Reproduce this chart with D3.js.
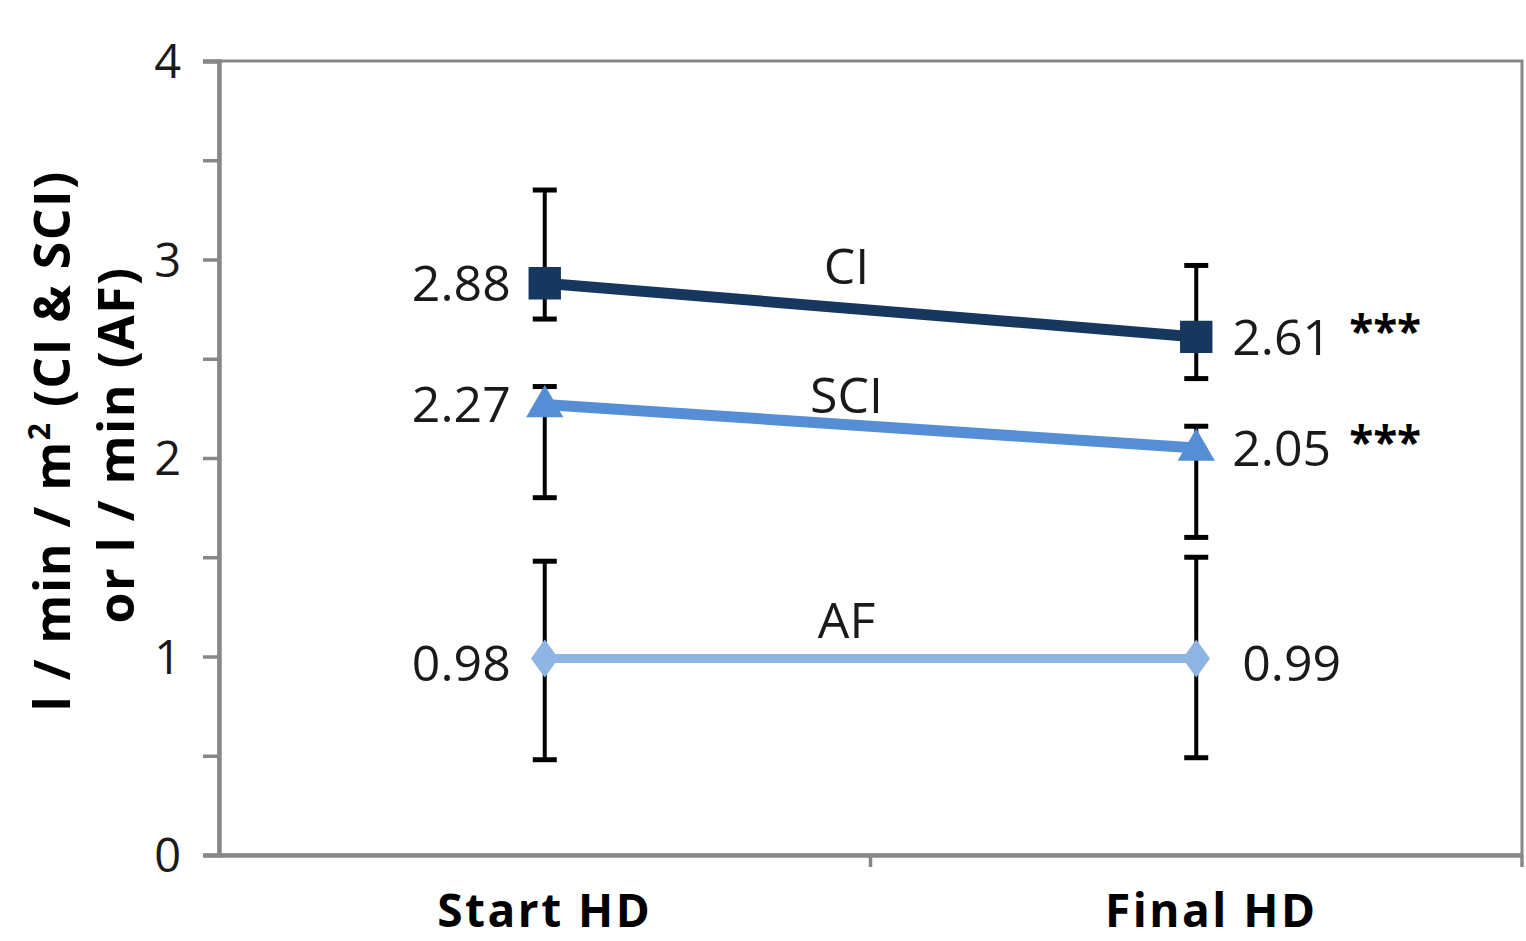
<!DOCTYPE html>
<html>
<head>
<meta charset="utf-8">
<script src="https://cdn.jsdelivr.net/npm/d3@7"></script>
<style>
  html, body { margin: 0; padding: 0; background: #fff; }
  svg { display: block; }
</style>
</head>
<body>
<svg id="chart" width="1526" height="941"></svg>
<script>
// ---- data ----
const categories = ["Start HD", "Final HD"];
const seriesNames = ["CI", "SCI", "AF"];
const ciValues = [2.88, 2.61];
const sciValues = [2.27, 2.05];
const afValues = [0.99, 0.99];
const ciLabels = ["2.88", "2.61"];
const sciLabels = ["2.27", "2.05"];
const afLabels = ["0.98", "0.99"];
const significance = ["", "***"];
const ciErrLow = [2.70, 2.40];
const ciErrHigh = [3.35, 2.97];
const sciErrLow = [1.80, 1.60];
const sciErrHigh = [2.36, 2.16];
const afErrLow = [0.48, 0.49];
const afErrHigh = [1.48, 1.50];
const yTicks = [0, 0.5, 1, 1.5, 2, 2.5, 3, 3.5, 4];
const yTitleLine1 = "l / min / m";
const yTitleLine2 = "or l / min (AF)";

const series = [
  { name: seriesNames[0], values: ciValues, labels: ciLabels, lo: ciErrLow, hi: ciErrHigh, color: "#17375E", marker: "square", sig: true, width: 11 },
  { name: seriesNames[1], values: sciValues, labels: sciLabels, lo: sciErrLow, hi: sciErrHigh, color: "#558ED5", marker: "triangle", sig: true, width: 11 },
  { name: seriesNames[2], values: afValues, labels: afLabels, lo: afErrLow, hi: afErrHigh, color: "#8EB4E3", marker: "diamond", sig: false, width: 9 }
];

// ---- layout ----
const svg = d3.select("#chart");
const plot = { left: 219, right: 1522, top: 61, bottom: 855 };
const x = d3.scaleBand().domain(categories).range([plot.left, plot.right]).padding(0);
const xc = c => x(c) + x.bandwidth() / 2;
const y = d3.scaleLinear().domain([0, 4]).range([plot.bottom, plot.top]);

const font = "'Open Sans', 'Noto Sans', sans-serif";
const axisGray = "#878787";
const textColor = "#1a1a1a";

// frame (top & right)
svg.append("rect")
  .attr("x", plot.left).attr("y", plot.top)
  .attr("width", plot.right - plot.left).attr("height", plot.bottom - plot.top)
  .attr("fill", "none").attr("stroke", axisGray).attr("stroke-width", 3);

// y axis
const yAxis = svg.append("g")
  .attr("transform", `translate(${plot.left},0)`)
  .call(d3.axisLeft(y).tickValues(yTicks).tickSize(16).tickPadding(22)
    .tickFormat(d => Number.isInteger(d) ? d3.format("d")(d) : ""));
yAxis.select(".domain").attr("stroke", axisGray).attr("stroke-width", 4.5);
yAxis.selectAll(".tick line").attr("stroke", axisGray).attr("stroke-width", 3.5);
yAxis.selectAll(".tick text").attr("fill", textColor).attr("font-family", font)
  .attr("font-size", 47).attr("dy", "0.36em");

// x axis
const xAxis = svg.append("g")
  .attr("transform", `translate(0,${plot.bottom})`)
  .call(d3.axisBottom(x).tickSize(0).tickPadding(0));
xAxis.select(".domain").attr("stroke", axisGray).attr("stroke-width", 4.5);
xAxis.selectAll(".tick text").attr("fill", "#000").attr("font-family", font)
  .attr("font-size", 46).attr("font-weight", "bold").attr("letter-spacing", 2.5)
  .attr("y", 72).attr("dy", 0)
  .attr("dx", (d, i) => i === 0 ? 0 : 15);
// boundary ticks
const boundaries = categories.map(c => x(c) + x.bandwidth());
svg.append("g").selectAll("line").data(boundaries).join("line")
  .attr("x1", d => d).attr("x2", d => d)
  .attr("y1", plot.bottom).attr("y2", plot.bottom + 12)
  .attr("stroke", axisGray).attr("stroke-width", 3.5);

// y title
const yTitle = svg.append("g").attr("transform", "translate(0,441) rotate(-90)");
const t1 = yTitle.append("text").attr("x", 0).attr("y", 70)
  .attr("text-anchor", "middle").attr("font-family", font).attr("font-weight", "bold")
  .attr("font-size", 50).attr("letter-spacing", 1.5).attr("fill", "#000");
t1.append("tspan").text(yTitleLine1);
t1.append("tspan").attr("font-size", 30).attr("dy", -20).text("2");
t1.append("tspan").attr("dy", 20).text(" (CI & SCI)");
yTitle.append("text").attr("x", -4).attr("y", 134)
  .attr("text-anchor", "middle").attr("font-family", font).attr("font-weight", "bold")
  .attr("font-size", 50).attr("letter-spacing", 1.5).attr("fill", "#000").text(yTitleLine2);

// lines
const line = d3.line().x((d, i) => xc(categories[i])).y(d => y(d));
series.forEach(s => {
  svg.append("path").datum(s.values)
    .attr("d", line).attr("fill", "none")
    .attr("stroke", s.color).attr("stroke-width", s.width);
});

// error bars
const capW = 24;
series.forEach(s => {
  const g = svg.append("g");
  categories.forEach((c, i) => {
    const cx = xc(c);
    g.append("line").attr("x1", cx).attr("x2", cx)
      .attr("y1", y(s.hi[i])).attr("y2", y(s.lo[i]))
      .attr("stroke", "#000").attr("stroke-width", 4);
    [s.hi[i], s.lo[i]].forEach(v => {
      g.append("line").attr("x1", cx - capW / 2).attr("x2", cx + capW / 2)
        .attr("y1", y(v)).attr("y2", y(v))
        .attr("stroke", "#000").attr("stroke-width", 5);
    });
  });
});

// markers
const symbolTypes = { square: d3.symbolSquare, triangle: d3.symbolTriangle, diamond: d3.symbolDiamond };
const symbolSizes = { square: 1050, triangle: 600, diamond: 420 };
series.forEach(s => {
  svg.append("g").selectAll("path").data(s.values).join("path")
    .attr("transform", (d, i) => `translate(${xc(categories[i])},${y(d) + (s.marker === "triangle" ? 2 : 0)})${s.marker === "diamond" ? " scale(1.25,1)" : ""}`)
    .attr("d", d3.symbol().type(symbolTypes[s.marker]).size(symbolSizes[s.marker]))
    .attr("fill", s.color);
});

// value labels
const labelFont = 50;
series.forEach(s => {
  // left (start)
  svg.append("text")
    .attr("x", xc(categories[0]) - 34).attr("y", y(s.values[0]))
    .attr("dy", s.name === "AF" ? "0.45em" : "0.36em")
    .attr("text-anchor", "end").attr("font-family", font).attr("font-size", labelFont)
    .attr("fill", textColor).text(s.labels[0]);
  // right (final)
  const t = svg.append("text")
    .attr("x", xc(categories[1]) + (s.name === "AF" ? 46 : 36)).attr("y", y(s.values[1]))
    .attr("dy", s.name === "AF" ? "0.45em" : "0.36em")
    .attr("text-anchor", "start").attr("font-family", font).attr("font-size", labelFont)
    .attr("fill", textColor);
  t.append("tspan").text(s.labels[1]);
  if (s.sig) {
    t.append("tspan").attr("dx", 18).attr("dy", -8).attr("font-weight", "bold").attr("font-size", 44)
      .attr("fill", "#000").text(significance[1]);
  }
});

// series name labels
const midX = (xc(categories[0]) + xc(categories[1])) / 2;
const nameOffsets = { CI: -26, SCI: -13, AF: -20 };
series.forEach(s => {
  const v = d3.mean(s.values);
  svg.append("text")
    .attr("x", midX - 24).attr("y", y(v) + nameOffsets[s.name])
    .attr("text-anchor", "middle").attr("font-family", font).attr("font-size", labelFont)
    .attr("fill", textColor).text(s.name);
});
</script>
</body>
</html>
